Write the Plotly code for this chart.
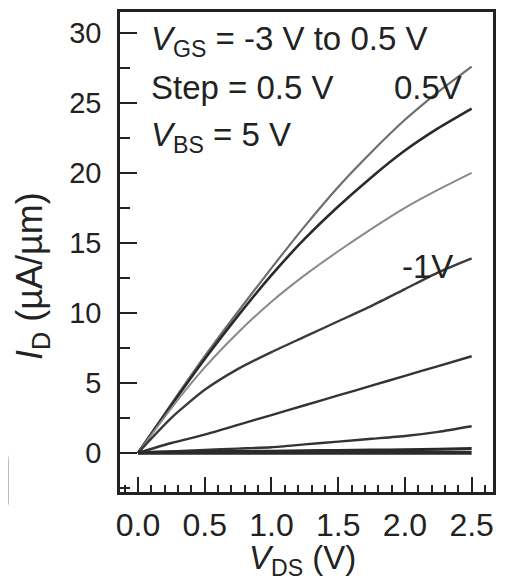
import plotly.graph_objects as go

vds = [0, 0.25, 0.5, 0.75, 1.0, 1.25, 1.5, 1.75, 2.0, 2.25, 2.5]
vgs_labels = ["0.5 V", "0 V", "-0.5 V", "-1 V", "-1.5 V", "-2 V", "-2.5 V", "-3 V"]
id_vals = [
    [0, 3.5, 6.9, 10.1, 13.2, 16.2, 19.0, 21.5, 23.8, 25.8, 27.6],
    [0, 3.4, 6.7, 9.8, 12.7, 15.3, 17.6, 19.7, 21.6, 23.2, 24.6],
    [0, 3.2, 6.1, 8.6, 10.8, 12.7, 14.4, 16.0, 17.5, 18.8, 20.0],
    [0, 2.5, 4.5, 6.0, 7.2, 8.3, 9.4, 10.5, 11.7, 12.9, 13.9],
    [0, 0.7, 1.3, 2.0, 2.7, 3.4, 4.1, 4.8, 5.5, 6.2, 6.9],
    [0, 0.1, 0.2, 0.3, 0.4, 0.6, 0.8, 1.0, 1.2, 1.5, 1.9],
    [0, 0.05, 0.08, 0.1, 0.12, 0.15, 0.17, 0.2, 0.22, 0.25, 0.3],
    [0, 0, 0, 0, 0, 0, 0, 0, 0, 0, 0],
]
colors = ["#6e6e6e", "#2a2a2a", "#8a8a8a", "#3a3a3a", "#333333", "#333333", "#2a2a2a", "#2a2a2a"]
widths = [2.2, 2.6, 2.0, 2.4, 2.4, 2.4, 3.0, 4.0]

FONT = "Liberation Sans, Arial, sans-serif"
INK = "#222"
X_RANGE = [-0.135, 2.66]

# x ticks every 0.1 V, labelled every 0.5 V
x_tickvals = [round(-0.1 + 0.1 * i, 1) for i in range(28)]
x_ticktext = [f"{v:.1f}" if abs(v * 2 - round(v * 2)) < 1e-9 and v >= 0 else "" for v in x_tickvals]

fig = go.Figure()
for lab, y, c, w in zip(vgs_labels, id_vals, colors, widths):
    fig.add_trace(go.Scatter(x=vds, y=y, mode="lines", name=lab,
                             line=dict(color=c, width=w, shape="spline", smoothing=0.6),
                             showlegend=False))

axis_common = dict(showline=True, linecolor=INK, linewidth=2.5, mirror=True,
                   showgrid=False, zeroline=False, ticks="inside", tickcolor=INK,
                   tickwidth=2, automargin=False)

fig.update_layout(
    xaxis=dict(range=X_RANGE, tickmode="array", tickvals=x_tickvals, ticktext=x_ticktext,
               ticklen=7, ticklabelstandoff=3,
               tickfont=dict(family=FONT, size=32, color=INK),
               minor=dict(ticks="inside", dtick=0.5, tick0=0, ticklen=15, tickwidth=2, tickcolor=INK),
               **axis_common),
    yaxis=dict(range=[-2.8, 31.5], tick0=0, dtick=5, ticklen=17, ticklabelstandoff=10,
               tickfont=dict(family=FONT, size=29, color=INK),
               minor=dict(ticks="inside", dtick=2.5, tick0=0, ticklen=10, tickwidth=2, tickcolor=INK),
               **axis_common),
)

# axis titles
fig.add_annotation(text="<i>V</i><sub>DS</sub> (V)", x=0.49, y=-0.142, xref="paper", yref="paper",
                   xanchor="center", yanchor="middle", showarrow=False,
                   font=dict(family=FONT, size=33, color=INK))
fig.add_annotation(text="<i>I</i><sub>D</sub> (µA/µm)", x=-0.236, y=0.45, xref="paper", yref="paper",
                   xanchor="center", yanchor="middle", showarrow=False, textangle=-90,
                   font=dict(family=FONT, size=36, color=INK))

ann_font = dict(family=FONT, size=33, color=INK)
annotations = [
    dict(text="<i>V</i><sub>GS</sub> = -3 V to 0.5 V", x=0.08, y=29.4),
    dict(text="Step = 0.5 V", x=0.08, y=26.1),
    dict(text="<i>V</i><sub>BS</sub> = 5 V", x=0.08, y=22.6),
]
for a in annotations:
    fig.add_annotation(text=a["text"], x=a["x"], y=a["y"], xref="x", yref="y",
                       xanchor="left", yanchor="middle", showarrow=False, font=ann_font)
fig.add_annotation(text="0.5V", x=1.90, y=26.1, xref="x", yref="y", xanchor="left",
                   yanchor="middle", showarrow=False, font=ann_font)
fig.add_annotation(text="-1V", x=1.96, y=13.3, xref="x", yref="y", xanchor="left",
                   yanchor="middle", showarrow=False, font=ann_font)

# scan artifact: faint rounded box at far left
fig.add_shape(type="path", xref="paper", yref="paper",
              path="M -0.33 0.081 L -0.31 0.081 Q -0.300 0.081 -0.300 0.065 L -0.300 -0.020 Q -0.300 -0.033 -0.31 -0.033 L -0.33 -0.033",
              line=dict(color="#b0b0b0", width=1.5))

# page body has an 8px offset, so the margins are shifted to put the plot area in place
fig.update_layout(width=509, height=582, margin=dict(l=112, r=24, t=4, b=98),
                  paper_bgcolor="white", plot_bgcolor="white",
                  font=dict(family=FONT, color=INK))

fig.write_html("out.html")
